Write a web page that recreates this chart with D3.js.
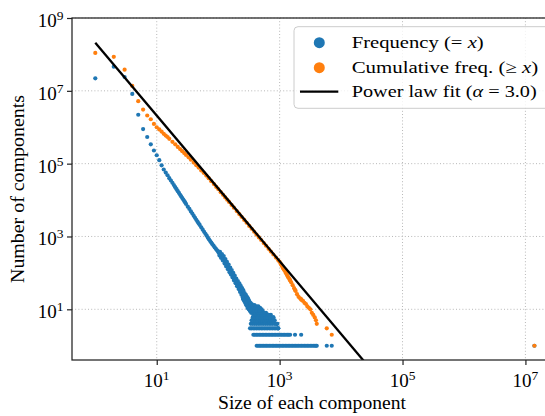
<!DOCTYPE html>
<html><head><meta charset="utf-8">
<script src="https://cdn.jsdelivr.net/npm/d3@7"></script>
<style>
body{margin:0;background:#fff;}
svg{display:block;}
text{font-family:"Liberation Serif","Times New Roman",serif;fill:#000;}
</style>
</head><body>
<svg id="chart" width="545" height="416"></svg>
<script>
// ---------- data ----------
// Frequency: number of components having exactly size x
const freqSizes = [1,2,3,4,5,6,7,8,9,10,11,12,13,14,15,16,17,18,19,20,21,22,23,24,25,26,27,28,29,30,
  32,34,36,38,40,42,44,46,48,50,53,56,59,62,65,68,71,74,77,80,84,88,92,96];
const freqCounts = [2.2e7,4.6e7,2.4e7,8.2e6,2.2e6,8.9e5,5.4e5,3.4e5,2.3e5,1.7e5,
  1.25e5,9.0e4,6.9e4,5.7e4,4.8e4,4.0e4,3.45e4,2.97e4,2.58e4,2.26e4,
  1.99e4,1.76e4,1.57e4,1.40e4,1.26e4,1.14e4,1.03e4,9400,8600,7800,
  6600,5700,4870,4250,3700,3250,2880,2560,2300,2080,
  1780,1540,1340,1180,1050,930,830,750,680,620,
  560,500,455,415];
// noisy tail of the frequency curve: [size, count]
const freqTail = [[100,390],[101,372],[102,360],[104,352],[106,334],[108,322],[110,306],[112,298],[114,282],[116,272],
  [118,259],[120,252],[122,238],[124,231],[126,216],[128,209],[130,197],[132,192],[134,178],[136,176],
  [138,166],[140,158],[143,152],[146,140],[149,136],[150,124],[152,127],[155,117],[158,114],[160,104],
  [162,108],[164,97],[167,96],[170,88],[173,86],[175,79],[178,80],[180,71],[182,75],[185,68],
  [188,67],[190,60],[193,62],[196,55],[199,58],[202,50],[205,53],[208,46],[211,49],[214,42],
  [217,45],[220,39],[223,43],[226,35],[229,38],[232,33],[235,36],[238,30],[241,33],[244,28],
  [247,31],[250,26],[253,29],[256,24],[259,27],[262,22],[265,25],[268,20],[271,24],[274,19],
  [277,22],[280,18],[283,21],[286,16],[289,19],[292,15],[295,18],[298,14],[301,17],[305,13],
  [308,16],[312,12],[315,15],[318,11],[322,14],[326,11],[330,13],[334,10],[338,12],[342,10],
  [346,11],[350,9],[355,12],[360,10],[366,11],[372,9],[378,10],[385,8],[392,11],[400,9],
  [410,10],[420,8],[430,9],[445,8],[460,9],[475,7],[490,8],[505,7],[520,8],[540,6],
  [560,7],[580,6],[600,7],[625,5],[650,6],[680,5],[710,6],[740,5],[790,6],[830,5],
  [880,4],[920,4],[950,3],[255,19],[265,17],[275,16],[285,14],[295,13],[305,12],
  [420,12],[440,11],[470,10],[500,9],[530,9],
  [105,300],[107,380],[111,260],[115,330],[119,220],[123,290],[127,180],[131,240],[135,150],[139,200],
  [144,125],[148,170],[153,105],[157,140],[161,90],[166,120],[171,75],[176,100],[181,62],[186,84],
  [192,52],[197,70],[203,43],[209,60],[215,36],[221,52],[227,30],[233,44],[239,25],[245,38],
  [251,21],[257,33],[263,18],[269,28],[276,15],[282,25],[288,13],[294,22],[300,11],[306,20],
  [314,10],[320,17],[328,9],[336,15],[344,8],[352,14],[362,13],[375,12],[390,13],[405,11],
  [425,10],[450,12],[480,11],[510,10],[550,8],[600,8],[660,7],[720,7]];
// sizes that occur exactly `rowCounts[i]` times
const rowCounts = [1,2,3,4,5,6,7,8,9];
const rowSizes = [
  [424,445,470,495,520,550,580,610,645,680,720,760,800,845,890,940,990,1050,1110,1170,1240,1310,1380,1460,1540,1630,1720,1820,1920,2030,2150,2270,2400,2540,2680,2830,2990,3160,3340,3530,3730,3900,4020,5850,7050,14000000],
  [374,395,418,442,467,494,522,552,584,617,652,690,730,772,816,863,912,965,1020,1080,1140,1200,1270,1340,1410,1480,1780,2240],
  [330,350,372,395,420,446,474,503,534,567,602,640,680,722,767,815,865,918,950],
  [340,365,392,420,450,480,515,550,590,630,675,720,770,830,890],
  [350,380,410,445,480,520,560,605,650,700,760,800],
  [365,400,440,485,530,580,635,700,790],
  [375,415,460,505,560,650],
  [370,400,440,490,560],
  [345,380,420,470]
];
// Cumulative frequency: number of components with size >= x
const cumSizes = [1,2,3,4,5,6,7,8,9,10,11,12,13,14,15,16,18,20,22,24,26,28,30,
  33,36,40,44,48,53,58,64,70,77,85,93,
  100,110,120,130,140,150,165,180,200,220,240,265,290,320,350,385,420,460,500,550,600,660,720,790,870,950,1000,
  1050,1080,1110,1140,1170,1200,1240,1270,1310,1340,1380,1410,1460,1480,1540,1630,1720,1780,1820,1920,2030,2150,2240,2270,2400,2540,2680,2830,2990,3160,3340,3530,3730,3900,4020,
  5850,7050,14000000];
const cumCounts = [1.1e8,8.6e7,3.8e7,1.36e7,5.2e6,3.05e6,2.1e6,1.66e6,1.23e6,1.0e6,
  8.7e5,7.6e5,6.6e5,5.9e5,5.4e5,4.8e5,3.98e5,3.39e5,2.88e5,2.51e5,2.2e5,1.95e5,1.74e5,
  1.49e5,1.29e5,1.07e5,9.1e4,7.8e4,6.5e4,5.6e4,4.7e4,4.0e4,3.3e4,2.75e4,2.3e4,
  2.0e4,1.65e4,1.39e4,1.18e4,1.02e4,8900,7350,6170,5000,4130,3470,2850,2380,1950,1630,1350,1130,945,800,660,556,459,386,320,264,222,200,
  174,160,148,135,126,117,107,98,89,83,76,72,65,62,55,46,38,34,32,26,22,20,19,18,17,15,14,12,11,10,8,7,6,5,4,
  3,2,1];
// Power-law fit line (alpha = 3.0), endpoints
const fitX = [1, 1e5];
const fitY = [2.1e8, 0.021];
const fitAlpha = "3.0";
// ticks
const xTicks = [1e1,1e3,1e5,1e7];
const yTicks = [1e1,1e3,1e5,1e7,1e9];
const xLabel = "Size of each component";
const yLabel = "Number of components";

// ---------- layout ----------
const P = {l:72, r:550, t:18, b:360};
const BLUE = "#1f77b4", ORANGE = "#ff7f0e";
const svg = d3.select("#chart");
const x = d3.scaleLog().domain([Math.pow(10,-0.379), Math.pow(10,7.40)]).range([P.l, P.r]);
const y = d3.scaleLog().domain([Math.pow(10,-0.392), 1e9]).range([P.b, P.t]);

svg.append("defs").append("clipPath").attr("id","clip")
  .append("rect").attr("x",P.l).attr("y",P.t).attr("width",P.r-P.l).attr("height",P.b-P.t);

// grid
const grid = svg.append("g").attr("stroke","#b0b0b0").attr("stroke-width",0.9).attr("stroke-dasharray","1,2.2");
grid.selectAll(".gx").data(xTicks).join("line")
  .attr("x1",d=>x(d)).attr("x2",d=>x(d)).attr("y1",P.t).attr("y2",P.b);
grid.selectAll(".gy").data(yTicks).join("line")
  .attr("y1",d=>y(d)).attr("y2",d=>y(d)).attr("x1",P.l).attr("x2",P.r);

// data points
const plotG = svg.append("g").attr("clip-path","url(#clip)");
const freqPts = freqSizes.map((s,i)=>[s,freqCounts[i]])
  .concat(freqTail)
  .concat(rowCounts.flatMap((c,i)=>rowSizes[i].map(s=>[s,c])));
plotG.append("g").selectAll("circle").data(freqPts).join("circle")
  .attr("cx",d=>x(d[0])).attr("cy",d=>y(d[1])).attr("r",2.1).attr("fill",BLUE);
const cumPts = cumSizes.map((s,i)=>[s,cumCounts[i]]);
plotG.append("g").selectAll("circle").data(cumPts).join("circle")
  .attr("cx",d=>x(d[0])).attr("cy",d=>y(d[1])).attr("r",2.1).attr("fill",ORANGE);
plotG.append("path").datum(fitX.map((v,i)=>[v,fitY[i]]))
  .attr("d",d3.line().x(d=>x(d[0])).y(d=>y(d[1])))
  .attr("fill","none").attr("stroke","#000").attr("stroke-width",2.3);

// axes (ticks)
const xa = svg.append("g").attr("transform",`translate(0,${P.b})`)
  .call(d3.axisBottom(x).tickValues(xTicks).tickSize(5).tickSizeOuter(0).tickFormat(()=>""));
const ya = svg.append("g").attr("transform",`translate(${P.l},0)`)
  .call(d3.axisLeft(y).tickValues(yTicks).tickSize(5).tickSizeOuter(0).tickFormat(()=>""));
[xa,ya].forEach(a=>{a.select(".domain").remove(); a.selectAll(".tick line").attr("stroke","#222").attr("stroke-width",1.2);});

// frame
svg.append("rect").attr("x",P.l).attr("y",P.t).attr("width",P.r-P.l).attr("height",P.b-P.t)
  .attr("fill","none").attr("stroke","#222").attr("stroke-width",1.25);

// tick labels
function expLabel(sel){
  sel.each(function(d){
    const t = d3.select(this);
    t.append("tspan").text("10");
    t.append("tspan").attr("font-size","13.5px").attr("dy","-7").text(Math.round(Math.log10(d)));
  });
}
svg.append("g").selectAll("text").data(xTicks).join("text")
  .attr("x",d=>x(d)).attr("y",386.5).attr("text-anchor","middle").style("font-size","19px").call(expLabel);
svg.append("g").selectAll("text").data(yTicks).join("text")
  .attr("x",63.5).attr("y",d=>y(d)+9).attr("text-anchor","end").style("font-size","19px").call(expLabel);

// axis labels
svg.append("text").attr("x",(P.l+P.r)/2 + 1).attr("y",409).attr("text-anchor","middle")
  .style("font-size","18.5px").attr("textLength",188).attr("lengthAdjust","spacingAndGlyphs").text(xLabel);
svg.append("text").attr("transform",`translate(24,189) rotate(-90)`).attr("text-anchor","middle")
  .style("font-size","18.5px").attr("textLength",188).attr("lengthAdjust","spacingAndGlyphs").text(yLabel);

// legend
const lg = svg.append("g");
lg.append("rect").attr("x",294).attr("y",26.7).attr("width",300).attr("height",81.6).attr("rx",4)
  .attr("fill","#fff").attr("fill-opacity",0.8).attr("stroke","#cccccc").attr("stroke-width",1);
lg.append("circle").attr("cx",319.3).attr("cy",42.7).attr("r",5.5).attr("fill",BLUE);
lg.append("circle").attr("cx",319.3).attr("cy",67.7).attr("r",5.5).attr("fill",ORANGE);
lg.append("line").attr("x1",300).attr("x2",338.3).attr("y1",91.7).attr("y2",91.7).attr("stroke","#000").attr("stroke-width",2.3);
function legText(yb, parts, len){
  const t = lg.append("text").attr("x",351.7).attr("y",yb).style("font-size","17px")
    .attr("textLength",len).attr("lengthAdjust","spacingAndGlyphs");
  parts.forEach(p=>{const s=t.append("tspan").text(p[0]); if(p[1]) s.attr("font-style","italic");});
}
legText(47.5, [["Frequency (= "],["x",1],[")"]], 132);
legText(72.5, [["Cumulative freq. (\u2265 "],["x",1],[")"]], 186.6);
legText(96.5, [["Power law fit ("],["\u03b1",1],[" = "+fitAlpha+")"]], 185);
</script>
</body></html>
